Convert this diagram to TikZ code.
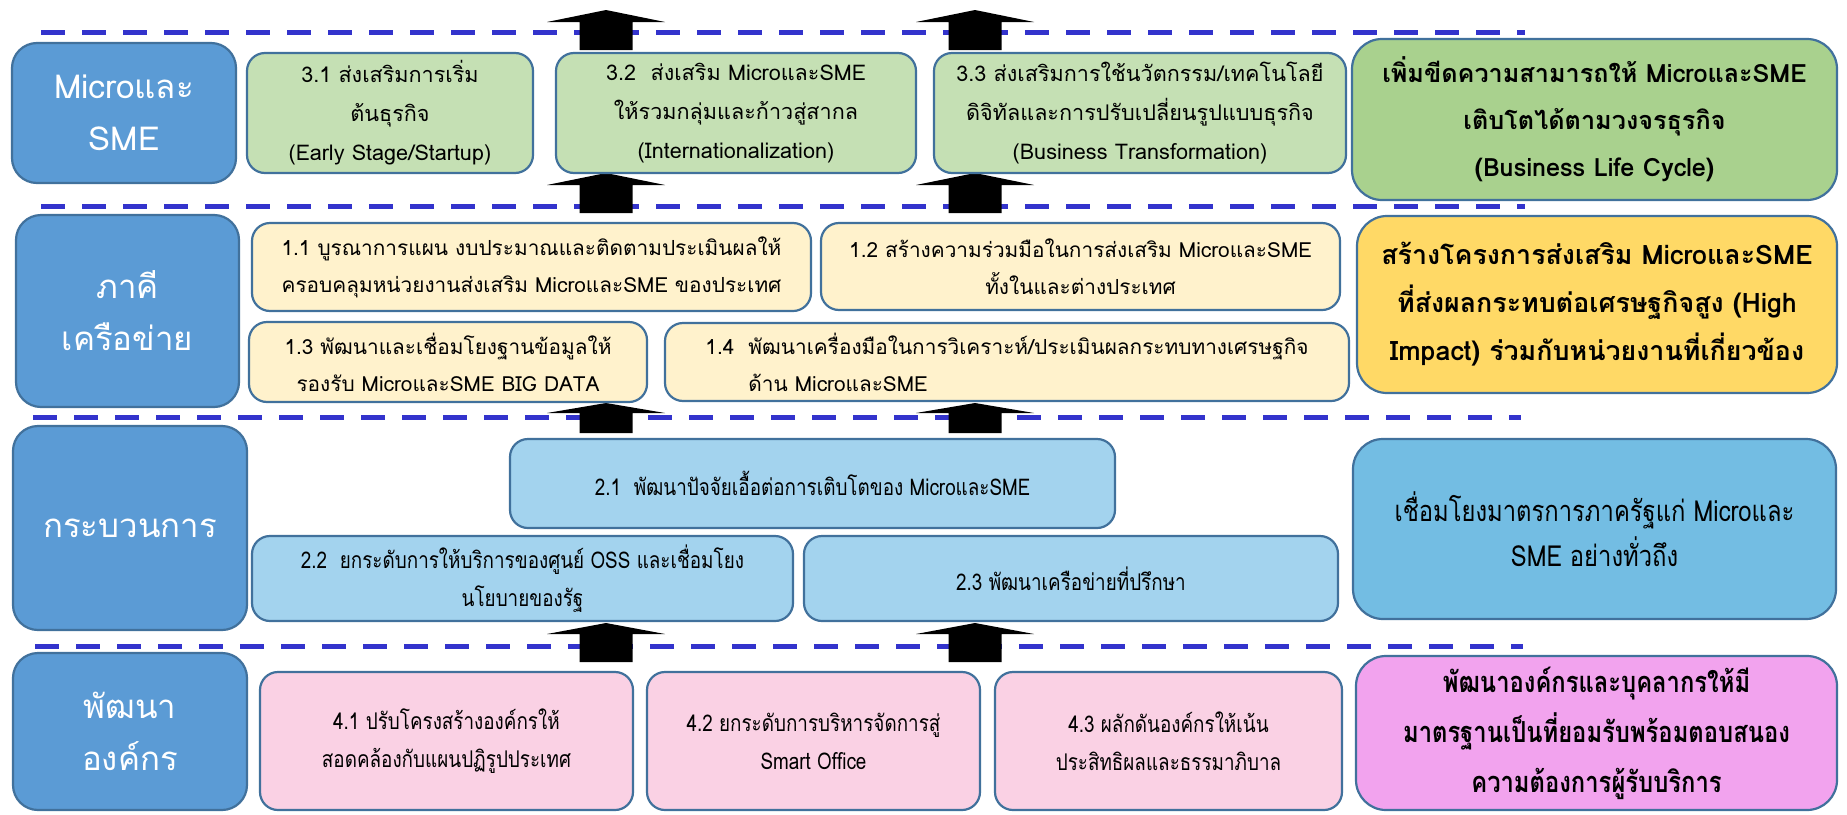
\documentclass[tikz,border=0pt]{standalone}
\usepackage{fontspec}
\setmainfont[Script=Thai]{Loma}
\newfontfamily\thcond[Script=Thai,FakeStretch=0.82]{Loma}
\definecolor{labblue}{HTML}{5B9BD5}
\definecolor{bord}{HTML}{41719C}
\definecolor{dashblue}{HTML}{3333CC}
\definecolor{grnA}{HTML}{C5E0B4}
\definecolor{grnB}{HTML}{A9D18E}
\definecolor{yelA}{HTML}{FFF2CC}
\definecolor{yelB}{HTML}{FFD966}
\definecolor{bluA}{HTML}{A3D3EE}
\definecolor{bluB}{HTML}{73BDE3}
\definecolor{pnkA}{HTML}{FAD1E4}
\definecolor{pnkB}{HTML}{F2A3EE}
\newcommand{\uparrowblk}[4]{\fill[blockarrow] ({#1-26.5},#4) -- ({#1-26.5},#3) -- ({#1-59},#3) -- (#1,#2) -- ({#1+59},#3) -- ({#1+26.5},#3) -- ({#1+26.5},#4) -- cycle;}
\begin{document}
\begin{tikzpicture}[x=0.5pt,y=-0.5pt,
  box/.style={draw=bord, line width=1.1pt, rounded corners=9pt, inner sep=0pt, outer sep=0pt, align=center, text=black},
  lab/.style={box, fill=labblue, rounded corners=12.5pt, text=white, font=\fontsize{16.5pt}{26pt}\selectfont},
  rbox/.style={box, rounded corners=15pt},
  fA/.style={font=\fontsize{10.8pt}{19.5pt}\selectfont},
  fB/.style={font=\fontsize{10.4pt}{18.5pt}\selectfont},
  fC/.style={font=\thcond\fontsize{11.5pt}{19pt}\selectfont},
  dashline/.style={draw=dashblue, line width=2.5pt, dash pattern=on 12pt off 8.5pt},
  blockarrow/.style={fill=black}]
\useasboundingbox (0,0) rectangle (1847,814);
\fill[white] (0,0) rectangle (1847,814);
% dashed separators
\draw[dashline] (41,32) -- (1525,32);
\draw[dashline] (41,206) -- (1525,206);
\draw[dashline] (33,417) -- (1521,417);
\draw[dashline] (35,646) -- (1523,646);
% block arrows
\uparrowblk{606}{10}{22}{50}
\uparrowblk{975}{10}{22}{50}
\uparrowblk{606}{173}{185}{213}
\uparrowblk{975}{173}{185}{213}
\uparrowblk{606}{403}{413}{433}
\uparrowblk{975}{403}{413}{433}
\uparrowblk{606}{623}{634}{662}
\uparrowblk{975}{623}{634}{662}
% Row 1
\node[lab, minimum width=112pt, minimum height=70pt] (l1) at (124,113) {Microและ\\SME};
\node[box, fA, fill=grnA, minimum width=143pt, minimum height=60pt] (b31) at (390,113) {3.1 ส่งเสริมการเริ่ม\\ต้นธุรกิจ\\(Early Stage/Startup)};
\node[box, fA, fill=grnA, minimum width=180pt, minimum height=60pt] (b32) at (736,113) {3.2\ \ ส่งเสริม MicroและSME\\ให้รวมกลุ่มและก้าวสู่สากล\\(Internationalization)};
\node[box, fA, fill=grnA, minimum width=206pt, minimum height=60pt] (b33) at (1140,113) {3.3 ส่งเสริมการใช้นวัตกรรม/เทคโนโลยี\\ดิจิทัลและการปรับเปลี่ยนรูปแบบธุรกิจ\\(Business Transformation)};
\node[rbox, fill=grnB, minimum width=242.5pt, minimum height=80.5pt, font=\bfseries\fontsize{12.6pt}{23.5pt}\selectfont] (r1) at (1594.5,119.5) {เพิ่มขีดความสามารถให้ MicroและSME\\เติบโตได้ตามวงจรธุรกิจ\\(Business Life Cycle)};
% Row 2
\node[lab, minimum width=111.5pt, minimum height=96pt] (l2) at (127.5,311) {ภาคี\\เครือข่าย};
\node[box, fB, fill=yelA, minimum width=279.5pt, minimum height=44pt] (b11) at (531.5,267) {1.1 บูรณาการแผน งบประมาณและติดตามประเมินผลให้\\ครอบคลุมหน่วยงานส่งเสริม MicroและSME ของประเทศ};
\node[box, fB, fill=yelA, minimum width=259.5pt, minimum height=43.5pt] (b12) at (1080.5,266.5) {1.2 สร้างความร่วมมือในการส่งเสริม MicroและSME\\ทั้งในและต่างประเทศ};
\node[box, fB, fill=yelA, minimum width=199pt, minimum height=40pt] (b13) at (448,362) {1.3 พัฒนาและเชื่อมโยงฐานข้อมูลให้\\รองรับ MicroและSME BIG DATA};
\node[box, fB, fill=yelA, minimum width=342pt, minimum height=39pt, align=left] (b14) at (1007,362) {1.4\ \ พัฒนาเครื่องมือในการวิเคราะห์/ประเมินผลกระทบทางเศรษฐกิจ\\\phantom{1.4\ \ }ด้าน MicroและSME};
\node[rbox, fill=yelB, minimum width=240pt, minimum height=88.5pt, font=\bfseries\fontsize{13.4pt}{24pt}\selectfont] (r2) at (1597,304.5) {สร้างโครงการส่งเสริม MicroและSME\\ที่ส่งผลกระทบต่อเศรษฐกิจสูง (High\\Impact) ร่วมกับหน่วยงานที่เกี่ยวข้อง};
% Row 3
\node[lab, minimum width=117pt, minimum height=102pt] (l3) at (130,528) {กระบวนการ};
\node[box, fC, fill=bluA, minimum width=302.5pt, minimum height=44.5pt] (b21) at (812.5,483.5) {2.1\ \ พัฒนาปัจจัยเอื้อต่อการเติบโตของ MicroและSME};
\node[box, fC, fill=bluA, minimum width=270.5pt, minimum height=42.5pt] (b22) at (522.5,578.5) {2.2\ \ ยกระดับการให้บริการของศูนย์ OSS และเชื่อมโยง\\นโยบายของรัฐ};
\node[box, fC, fill=bluA, minimum width=267pt, minimum height=42.5pt] (b23) at (1071,578.5) {2.3 พัฒนาเครือข่ายที่ปรึกษา};
\node[rbox, fill=bluB, minimum width=241.5pt, minimum height=90pt, font=\thcond\fontsize{14.5pt}{22.5pt}\selectfont] (r3) at (1594.5,529) {เชื่อมโยงมาตรการภาครัฐแก่ Microและ\\SME อย่างทั่วถึง};
% Row 4
\node[lab, minimum width=117pt, minimum height=78.5pt] (l4) at (130,731.5) {พัฒนา\\องค์กร};
\node[box, fC, fill=pnkA, minimum width=186.5pt, minimum height=69pt] (b41) at (446.5,741) {4.1 ปรับโครงสร้างองค์กรให้\\สอดคล้องกับแผนปฏิรูปประเทศ};
\node[box, fC, fill=pnkA, minimum width=166.5pt, minimum height=69pt] (b42) at (813.5,741) {4.2 ยกระดับการบริหารจัดการสู่\\Smart Office};
\node[box, fC, fill=pnkA, minimum width=173.5pt, minimum height=69pt] (b43) at (1168.5,741) {4.3 ผลักดันองค์กรให้เน้น\\ประสิทธิผลและธรรมาภิบาล};
\node[rbox, fill=pnkB, minimum width=240.5pt, minimum height=77pt, font=\thcond\bfseries\fontsize{14.5pt}{25pt}\selectfont] (r4) at (1596.5,733) {พัฒนาองค์กรและบุคลากรให้มี\\มาตรฐานเป็นที่ยอมรับพร้อมตอบสนอง\\ความต้องการผู้รับบริการ};
\end{tikzpicture}
\end{document}
